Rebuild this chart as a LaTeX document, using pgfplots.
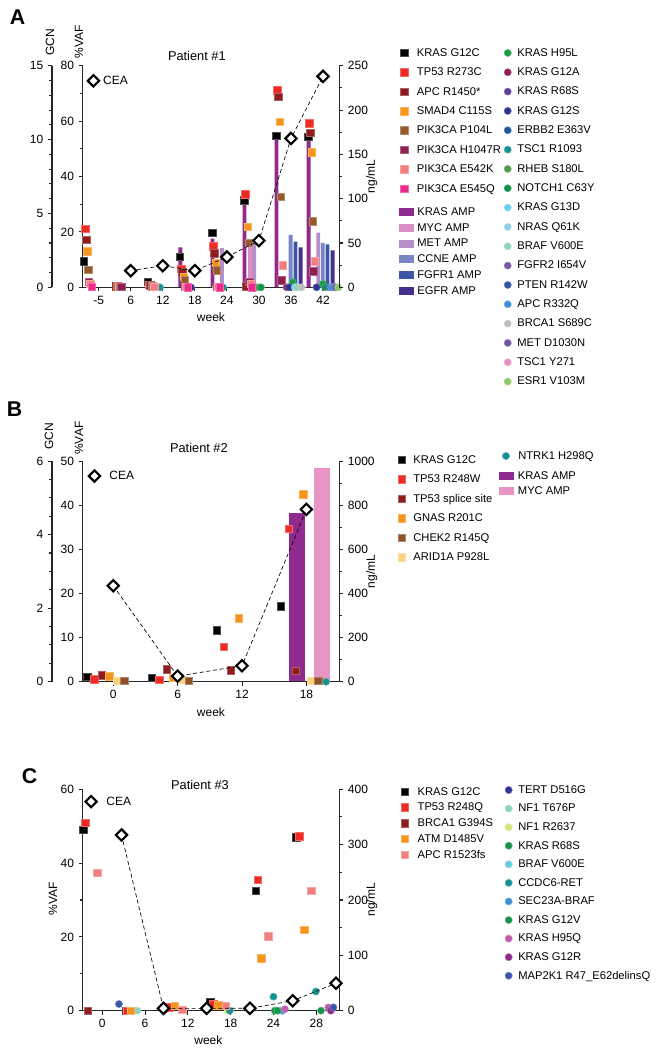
\documentclass[border=0pt]{standalone}
\usepackage{fontspec}
\setmainfont{Liberation Sans}
\usepackage{pgfplots}
\pgfplotsset{compat=1.18}

\definecolor{aK}{HTML}{000000}
\definecolor{aTP}{HTML}{EE2A24}
\definecolor{aAPC}{HTML}{8E1B1E}
\definecolor{aSM}{HTML}{F7941D}
\definecolor{aPB}{HTML}{955A2A}
\definecolor{aH}{HTML}{8E1F4F}
\definecolor{aSal}{HTML}{F27F7F}
\definecolor{aMag}{HTML}{EC2A8C}
\definecolor{bKR}{HTML}{8F2A8E}
\definecolor{bMYC}{HTML}{DC8EC4}
\definecolor{bMET}{HTML}{B68FC9}
\definecolor{bCC}{HTML}{7B84C5}
\definecolor{bFG}{HTML}{3C57A8}
\definecolor{bEG}{HTML}{432F8E}
\definecolor{c1}{HTML}{1A9A4B}
\definecolor{c2}{HTML}{8E1F55}
\definecolor{c3}{HTML}{5C3D99}
\definecolor{c4}{HTML}{2C3290}
\definecolor{c5}{HTML}{1D5799}
\definecolor{c6}{HTML}{13908E}
\definecolor{c7}{HTML}{519A47}
\definecolor{c8}{HTML}{10934A}
\definecolor{c9}{HTML}{6DCFF4}
\definecolor{c10}{HTML}{8ED3E1}
\definecolor{c11}{HTML}{8FD2BD}
\definecolor{c12}{HTML}{7A55A7}
\definecolor{c13}{HTML}{3451A3}
\definecolor{c14}{HTML}{3F8FD2}
\definecolor{c15}{HTML}{BEBEBE}
\definecolor{c16}{HTML}{6F52A2}
\definecolor{c17}{HTML}{E68FC0}
\definecolor{c18}{HTML}{8CC867}
\definecolor{pBrown}{HTML}{8E5228}
\definecolor{pArid}{HTML}{FDD07F}
\definecolor{pMYC}{HTML}{E895C4}
\definecolor{cTERT}{HTML}{2E3591}
\definecolor{cNFT}{HTML}{8ED3BE}
\definecolor{cNFR}{HTML}{D7E37A}
\definecolor{cR68}{HTML}{1A8F4A}
\definecolor{cBRAF}{HTML}{67CBE0}
\definecolor{cSEC}{HTML}{3F8FD2}
\definecolor{cG12V}{HTML}{139447}
\definecolor{cH95Q}{HTML}{C25AAB}
\definecolor{cG12R}{HTML}{8E2A8C}
\definecolor{cMAP}{HTML}{3A55A8}

\newcommand{\tickfont}{\fontsize{9}{10}\selectfont}
\newcommand{\legfont}{\fontsize{8.4}{9}\selectfont}

\pgfplotsset{
  sq/.style={only marks, mark=square*, mark size=2.8pt, mark options={solid, fill=#1, draw=#1!70!white, line width=0.5pt}},
  ci/.style={only marks, mark=*, mark size=2.7pt, mark options={solid, fill=#1, draw=#1!70!white, line width=0.4pt}},
  gb/.style={ybar, bar shift=0pt, fill=#1, draw=none},
  mkleg/.style={legend image code/.code={\draw[##1] plot coordinates {(0pt,0pt)};}},
  barleg/.style={legend image code/.code={\fill[##1] (0pt,-3pt) rectangle (11pt,3pt);}},
  cea/.style={densely dashed, line width=0.5pt, black, mark=square*, mark size=3pt, mark options={solid, rotate=45, fill=white, draw=black, line width=1.6pt}},
  base/.style={scale only axis, width=192.45pt, clip=false,
    axis line style={line width=0.9pt, black!85},
    tick style={line width=0.8pt, black!85},
    tick align=outside, major tick length=3pt, minor tick length=2pt,
    /pgf/number format/assume math mode=true, /pgf/number format/1000 sep={},
    tick label style={font=\tickfont}, label style={font=\tickfont}},
  legbox/.style={hide axis, scale only axis, width=1pt, height=1pt, xmin=0, xmax=1, ymin=0, ymax=1,
    anchor=north west, legend cell align=left,
    legend style={at={(0,1)}, anchor=north west, draw=none, fill=none, inner sep=0pt, outer sep=0pt,
      font=\legfont, nodes={inner sep=0pt, outer sep=0pt, text height=6pt, text depth=1pt}}},
  ceaLeg/.style={legend cell align=left, legend style={anchor=west, draw=none, fill=none, inner sep=0pt, outer sep=0pt,
      font=\tickfont, nodes={inner sep=0pt, outer sep=0pt, text height=6pt, text depth=1pt}}},
}

\begin{document}
\begin{tikzpicture}
\path[use as bounding box] (0pt,0pt) rectangle (495pt,-787.5pt);

% ================= PANEL A =================
\node[font=\bfseries\fontsize{16}{18}\selectfont] at (13.1pt,-13.1pt) {A};

\begin{axis}[base, height=166.2pt, at={(62pt,-215.5pt)}, anchor=south west,
  xmin=0.5, xmax=8.507, ymin=0, ymax=15,
  axis x line=none, axis y line*=left, axis y line shift=23pt,
  ytick={0,5,10,15}, minor ytick={1,2,3,4,6,7,8,9,11,12,13,14}]
\addplot[gb=bKR, bar width=0.12] coordinates {(3.55,2.7) (4.55,3.3) (5.55,6.0) (6.55,10.2) (7.55,10.3)};
\addplot[gb=bMYC, bar width=0.12] coordinates {(5.72,3.0)};
\addplot[gb=bMET, bar width=0.12] coordinates {(4.85,2.65) (5.85,3.0) (7.85,3.7)};
\addplot[gb=bCC, bar width=0.12] coordinates {(6.99,3.55) (7.99,3.0)};
\addplot[gb=bFG, bar width=0.12] coordinates {(7.14,3.1) (8.14,2.9)};
\addplot[gb=bEG, bar width=0.12] coordinates {(7.30,2.7) (8.30,2.5)};
\node[rotate=90, font=\tickfont] at (axis description cs:-0.127,1.107) {GCN};
\end{axis}

\begin{axis}[base, height=166.2pt, at={(62pt,-215.5pt)}, anchor=south west,
  xmin=0.5, xmax=8.507, ymin=0, ymax=80,
  axis x line*=bottom, axis y line*=left,
  xtick={1,2,3,4,5,6,7,8}, xticklabels={-5,6,12,18,24,30,36,42},
  ytick={0,20,40,60,80}, minor y tick num=1]
% circles
\addplot[ci=c1] coordinates {(7.05,1.9) (7.99,1.3)};
\addplot[ci=c2] coordinates {(6.865,0)};
\addplot[ci=c3] coordinates {(3.786,0) (8.28,0)};
\addplot[ci=c4] coordinates {(2.757,0) (3.88,0) (4.72,0) (5.78,0) (6.94,0) (7.80,0)};
\addplot[ci=c5] coordinates {(2.694,0) (4.785,0) (5.845,0)};
\addplot[ci=c6] coordinates {(2.913,0) (4.88,0) (5.91,0)};
\addplot[ci=c7] coordinates {(6.0,0)};
\addplot[ci=c8] coordinates {(6.064,0) (8.06,0)};
\addplot[ci=c9] coordinates {(7.125,0)};
\addplot[ci=c10] coordinates {(7.23,0)};
\addplot[ci=c11] coordinates {(7.18,0)};
\addplot[ci=c12] coordinates {(8.32,0)};
\addplot[ci=c13] coordinates {(8.195,0)};
\addplot[ci=c14] coordinates {(8.25,0)};
\addplot[ci=c15] coordinates {(7.33,0)};
\addplot[ci=c16] coordinates {(8.395,0)};
\addplot[ci=c17] coordinates {(4.66,0)};
\addplot[ci=c18] coordinates {(8.476,0)};
% squares
\addplot[sq=aK] coordinates {(0.54,9.4) (1.54,0.3) (2.54,1.9) (3.54,11.0) (4.54,19.6) (5.54,31.4) (6.54,54.6) (7.54,54.3)};
\addplot[sq=aTP] coordinates {(0.58,21.2) (1.58,0.3) (2.58,1.0) (3.58,6.6) (4.58,14.8) (5.58,33.5) (6.58,71.2) (7.58,59.2)};
\addplot[sq=aAPC] coordinates {(0.61,17.2) (1.61,0.2) (2.61,0.8) (3.61,5.5) (4.61,12.2) (5.61,0.3) (6.61,68.8) (7.61,55.8)};
\addplot[sq=aSM] coordinates {(0.65,13.0) (1.65,0.2) (2.65,0.6) (3.65,3.7) (4.65,8.8) (5.65,21.8) (6.65,59.7) (7.65,48.8)};
\addplot[sq=aPB] coordinates {(0.68,6.4) (1.68,0.2) (2.68,0.4) (3.68,2.8) (4.68,6.1) (5.68,16.0) (6.68,32.6) (7.68,23.9)};
\addplot[sq=aH] coordinates {(0.70,1.9) (1.70,0.2) (2.70,0.2) (3.70,0.2) (4.70,0.2) (5.70,1.9) (6.70,2.5) (7.70,5.7)};
\addplot[sq=aSal] coordinates {(0.74,1.3) (2.74,0.1) (3.74,0.1) (4.74,0.1) (5.74,1.3) (6.74,8.0) (7.74,9.4)};
\addplot[sq=aMag] coordinates {(0.78,0.1) (3.78,0) (4.78,0) (5.78,0)};
\node[rotate=90, font=\tickfont] at (axis description cs:-0.0144,1.107) {\%VAF};
\node[font=\fontsize{9.6}{11}\selectfont] at (axis description cs:0.445,1.044) {Patient \#1};
\node[font=\tickfont] at (axis description cs:0.5,-0.134) {week};
\end{axis}

\begin{axis}[base, height=166.2pt, at={(62pt,-215.5pt)}, anchor=south west,
  xmin=0.5, xmax=8.507, ymin=0, ymax=250,
  axis x line=none, axis y line*=right,
  ytick={0,50,100,150,200,250}, minor y tick num=1,
  ceaLeg, legend style={at={(axis description cs:0.02,0.932)}, /tikz/every odd column/.append style={column sep=3pt}}]
\addplot[cea, forget plot] coordinates {(2,18.8) (3,24.4) (4,18.8) (5,34.2) (6,52.7) (7,168) (8,238)};
\addlegendimage{cea, mkleg}
\addlegendentry{CEA}
\node[rotate=90, font=\tickfont] at (axis description cs:1.127,0.5) {ng/mL};
\end{axis}

% Legends A
\begin{axis}[legbox, at={(300.4pt,-36.2pt)},
  legend style={row sep=7.55pt, /tikz/every odd column/.append style={column sep=6.7pt}}]
\addlegendimage{sq=aK, mkleg}\addlegendentry{KRAS G12C}
\addlegendimage{sq=aTP, mkleg}\addlegendentry{TP53 R273C}
\addlegendimage{sq=aAPC, mkleg}\addlegendentry{APC R1450*}
\addlegendimage{sq=aSM, mkleg}\addlegendentry{SMAD4 C115S}
\addlegendimage{sq=aPB, mkleg}\addlegendentry{PIK3CA P104L}
\addlegendimage{sq=aH, mkleg}\addlegendentry{PIK3CA H1047R}
\addlegendimage{sq=aSal, mkleg}\addlegendentry{PIK3CA E542K}
\addlegendimage{sq=aMag, mkleg}\addlegendentry{PIK3CA E545Q}
\end{axis}

\begin{axis}[legbox, at={(299.25pt,-155.5pt)},
  legend style={row sep=4.85pt, /tikz/every odd column/.append style={column sep=2.8pt}}]
\addlegendimage{fill=bKR, draw=none, barleg}\addlegendentry{KRAS AMP}
\addlegendimage{fill=bMYC, draw=none, barleg}\addlegendentry{MYC AMP}
\addlegendimage{fill=bMET, draw=none, barleg}\addlegendentry{MET AMP}
\addlegendimage{fill=bCC, draw=none, barleg}\addlegendentry{CCNE AMP}
\addlegendimage{fill=bFG, draw=none, barleg}\addlegendentry{FGFR1 AMP}
\addlegendimage{fill=bEG, draw=none, barleg}\addlegendentry{EGFR AMP}
\end{axis}

\begin{axis}[legbox, at={(378.1pt,-36.2pt)},
  legend style={row sep=7.5pt, /tikz/every odd column/.append style={column sep=4.5pt}}]
\addlegendimage{ci=c1, mkleg}\addlegendentry{KRAS H95L}
\addlegendimage{ci=c2, mkleg}\addlegendentry{KRAS G12A}
\addlegendimage{ci=c3, mkleg}\addlegendentry{KRAS R68S}
\addlegendimage{ci=c4, mkleg}\addlegendentry{KRAS G12S}
\addlegendimage{ci=c5, mkleg}\addlegendentry{ERBB2 E363V}
\addlegendimage{ci=c6, mkleg}\addlegendentry{TSC1 R1093}
\addlegendimage{ci=c7, mkleg}\addlegendentry{RHEB S180L}
\addlegendimage{ci=c8, mkleg}\addlegendentry{NOTCH1 C63Y}
\addlegendimage{ci=c9, mkleg}\addlegendentry{KRAS G13D}
\addlegendimage{ci=c10, mkleg}\addlegendentry{NRAS Q61K}
\addlegendimage{ci=c11, mkleg}\addlegendentry{BRAF V600E}
\addlegendimage{ci=c12, mkleg}\addlegendentry{FGFR2 I654V}
\addlegendimage{ci=c13, mkleg}\addlegendentry{PTEN R142W}
\addlegendimage{ci=c14, mkleg}\addlegendentry{APC R332Q}
\addlegendimage{ci=c15, mkleg}\addlegendentry{BRCA1 S689C}
\addlegendimage{ci=c16, mkleg}\addlegendentry{MET D1030N}
\addlegendimage{ci=c17, mkleg}\addlegendentry{TSC1 Y271}
\addlegendimage{ci=c18, mkleg}\addlegendentry{ESR1 V103M}
\end{axis}

% ================= PANEL B =================
\node[font=\bfseries\fontsize{16}{18}\selectfont] at (10.9pt,-306.75pt) {B};

\begin{axis}[base, height=165.5pt, at={(62pt,-511.3pt)}, anchor=south west,
  xmin=-2.85, xmax=21.06, ymin=0, ymax=6,
  axis x line=none, axis y line*=left, axis y line shift=23pt,
  ytick={0,2,4,6}, minor y tick num=3]
\addplot[gb=bKR, bar width=1.55] coordinates {(17.12,4.59)};
\addplot[gb=pMYC, bar width=1.5] coordinates {(19.45,5.82)};
\node[rotate=90, font=\tickfont] at (axis description cs:-0.131,1.111) {GCN};
\end{axis}

\begin{axis}[base, height=165.5pt, at={(62pt,-511.3pt)}, anchor=south west,
  xmin=-2.85, xmax=21.06, ymin=0, ymax=50,
  axis x line*=bottom, axis y line*=left,
  xtick={0,6,12,18}, ytick={0,10,20,30,40,50}]
\addplot[sq=aK] coordinates {(-2.42,1.1) (3.58,0.9) (9.63,11.7) (15.63,17.1)};
\addplot[sq=aTP] coordinates {(-1.77,0.5) (4.29,0.4) (10.3,7.9) (16.35,34.7)};
\addplot[sq=aAPC] coordinates {(-1.08,1.4) (4.97,2.8) (10.97,2.6) (17.0,2.5)};
\addplot[sq=aSM] coordinates {(-0.37,1.2) (5.6,0.9) (11.68,14.4) (17.7,42.5)};
\addplot[sq=pArid] coordinates {(0.37,0.2) (6.37,0.4) (18.4,0.2)};
\addplot[sq=pBrown] coordinates {(1.03,0.2) (7.05,0.2) (19.1,0.2)};
\addplot[ci=c6] coordinates {(19.83,0)};
\node[rotate=90, font=\tickfont] at (axis description cs:-0.0144,1.104) {\%VAF};
\node[font=\fontsize{9.6}{11}\selectfont] at (axis description cs:0.453,1.06) {Patient \#2};
\node[font=\tickfont] at (axis description cs:0.5,-0.136) {week};
\end{axis}

\begin{axis}[base, height=165.5pt, at={(62pt,-511.3pt)}, anchor=south west,
  xmin=-2.85, xmax=21.06, ymin=0, ymax=1000,
  axis x line=none, axis y line*=right,
  ytick={0,200,400,600,800,1000}, minor y tick num=1,
  ceaLeg, legend style={at={(axis description cs:0.024,0.932)}, /tikz/every odd column/.append style={column sep=7pt}}]
\addplot[cea, forget plot] coordinates {(0,435) (6,25.7) (12,72.5) (18,781)};
\addlegendimage{cea, mkleg}
\addlegendentry{CEA}
\node[rotate=90, font=\tickfont] at (axis description cs:1.127,0.5) {ng/mL};
\end{axis}

\begin{axis}[legbox, at={(298.7pt,-341.5pt)},
  legend style={row sep=7.6pt, /tikz/every odd column/.append style={column sep=5.7pt}}]
\addlegendimage{sq=aK, mkleg}\addlegendentry{KRAS G12C}
\addlegendimage{sq=aTP, mkleg}\addlegendentry{TP53 R248W}
\addlegendimage{sq=aAPC, mkleg}\addlegendentry{TP53 splice site}
\addlegendimage{sq=aSM, mkleg}\addlegendentry{GNAS R201C}
\addlegendimage{sq=pBrown, mkleg}\addlegendentry{CHEK2 R145Q}
\addlegendimage{sq=pArid, mkleg}\addlegendentry{ARID1A P928L}
\end{axis}

\begin{axis}[legbox, at={(376.8pt,-338.5pt)},
  legend style={/tikz/every odd column/.append style={column sep=6.5pt}}]
\addlegendimage{ci=c6, mkleg}\addlegendentry{NTRK1 H298Q}
\end{axis}

\begin{axis}[legbox, at={(374.25pt,-353.3pt)},
  legend style={row sep=4.5pt, /tikz/every odd column/.append style={column sep=3.2pt}}]
\addlegendimage{fill=bKR, draw=none, barleg}\addlegendentry{KRAS AMP}
\addlegendimage{fill=pMYC, draw=none, barleg}\addlegendentry{MYC AMP}
\end{axis}

% ================= PANEL C =================
\node[font=\bfseries\fontsize{16}{18}\selectfont] at (22.1pt,-582pt) {C};

\begin{axis}[base, height=166.05pt, at={(62pt,-758pt)}, anchor=south west,
  xmin=0.542, xmax=6.537, ymin=0, ymax=60,
  axis x line*=bottom, axis y line*=left,
  xtick={1,2,3,4,5,6}, xticklabels={0,6,12,18,24,28},
  ytick={0,20,40,60}, minor y tick num=1]
\addplot[ci=cTERT] coordinates {(1.72,0)};
\addplot[ci=cNFT] coordinates {(1.82,0)};
\addplot[ci=cNFR] coordinates {(3.93,0)};
\addplot[ci=cR68] coordinates {(5.03,0)};
\addplot[ci=cBRAF] coordinates {(5.15,0)};
\addplot[ci=c6] coordinates {(3.98,0) (5.0,3.8) (5.99,5.2)};
\addplot[ci=cSEC] coordinates {(5.21,0)};
\addplot[ci=cG12V] coordinates {(5.09,0) (6.11,0)};
\addplot[ci=cH95Q] coordinates {(5.27,0.4) (6.28,0.9)};
\addplot[ci=cG12R] coordinates {(6.34,0)};
\addplot[ci=cMAP] coordinates {(1.39,1.8) (6.40,0.9)};
\addplot[sq=aK] coordinates {(0.556,49.0) (1.55,0) (2.5,1.1) (3.53,2.2) (4.59,32.5) (5.53,47.0)};
\addplot[sq=aTP] coordinates {(0.60,50.9) (1.58,0) (2.57,0.9) (3.59,1.8) (4.63,35.4) (5.60,47.3)};
\addplot[sq=aAPC] coordinates {(0.66,0)};
\addplot[sq=aSM] coordinates {(1.67,0) (2.69,1.3) (3.71,1.5) (4.72,14.2) (5.72,21.9)};
\addplot[sq=aSal] coordinates {(0.88,37.4) (2.87,0.2) (3.89,1.3) (4.88,20.1) (5.88,32.5)};
\node[rotate=90, font=\tickfont] at (axis description cs:-0.116,0.5045) {\%VAF};
\node[font=\fontsize{9.6}{11}\selectfont] at (axis description cs:0.457,1.019) {Patient \#3};
\node[font=\tickfont] at (axis description cs:0.49,-0.132) {week};
\end{axis}

\begin{axis}[base, height=166.05pt, at={(62pt,-758pt)}, anchor=south west,
  xmin=0.542, xmax=6.537, ymin=0, ymax=400,
  axis x line=none, axis y line*=right,
  ytick={0,100,200,300,400}, minor y tick num=1,
  ceaLeg, legend style={at={(axis description cs:0.011,0.944)}, /tikz/every odd column/.append style={column sep=7.2pt}}]
\addplot[cea, forget plot] coordinates {(1.45,317.5) (2.43,4.2) (3.44,4.2) (4.45,4.3) (5.45,18) (6.46,49.5)};
\addlegendimage{cea, mkleg}
\addlegendentry{CEA}
\node[rotate=90, font=\tickfont] at (axis description cs:1.127,0.5) {ng/mL};
\end{axis}

\begin{axis}[legbox, at={(300.95pt,-590.3pt)},
  legend style={row sep=4.8pt, /tikz/every odd column/.append style={column sep=6.7pt}}]
\addlegendimage{sq=aK, mkleg}\addlegendentry{KRAS G12C}
\addlegendimage{sq=aTP, mkleg}\addlegendentry{TP53 R248Q}
\addlegendimage{sq=aAPC, mkleg}\addlegendentry{BRCA1 G394S}
\addlegendimage{sq=aSM, mkleg}\addlegendentry{ATM D1485V}
\addlegendimage{sq=aSal, mkleg}\addlegendentry{APC R1523fs}
\end{axis}

\begin{axis}[legbox, at={(378.8pt,-589pt)},
  legend style={row sep=6.93pt, /tikz/every odd column/.append style={column sep=4.5pt}}]
\addlegendimage{ci=cTERT, mkleg}\addlegendentry{TERT D516G}
\addlegendimage{ci=cNFT, mkleg}\addlegendentry{NF1 T676P}
\addlegendimage{ci=cNFR, mkleg}\addlegendentry{NF1 R2637}
\addlegendimage{ci=cR68, mkleg}\addlegendentry{KRAS R68S}
\addlegendimage{ci=cBRAF, mkleg}\addlegendentry{BRAF V600E}
\addlegendimage{ci=c6, mkleg}\addlegendentry{CCDC6-RET}
\addlegendimage{ci=cSEC, mkleg}\addlegendentry{SEC23A-BRAF}
\addlegendimage{ci=cG12V, mkleg}\addlegendentry{KRAS G12V}
\addlegendimage{ci=cH95Q, mkleg}\addlegendentry{KRAS H95Q}
\addlegendimage{ci=cG12R, mkleg}\addlegendentry{KRAS G12R}
\addlegendimage{ci=cMAP, mkleg}\addlegendentry{MAP2K1 R47\_E62delinsQ}
\end{axis}

\end{tikzpicture}
\end{document}
